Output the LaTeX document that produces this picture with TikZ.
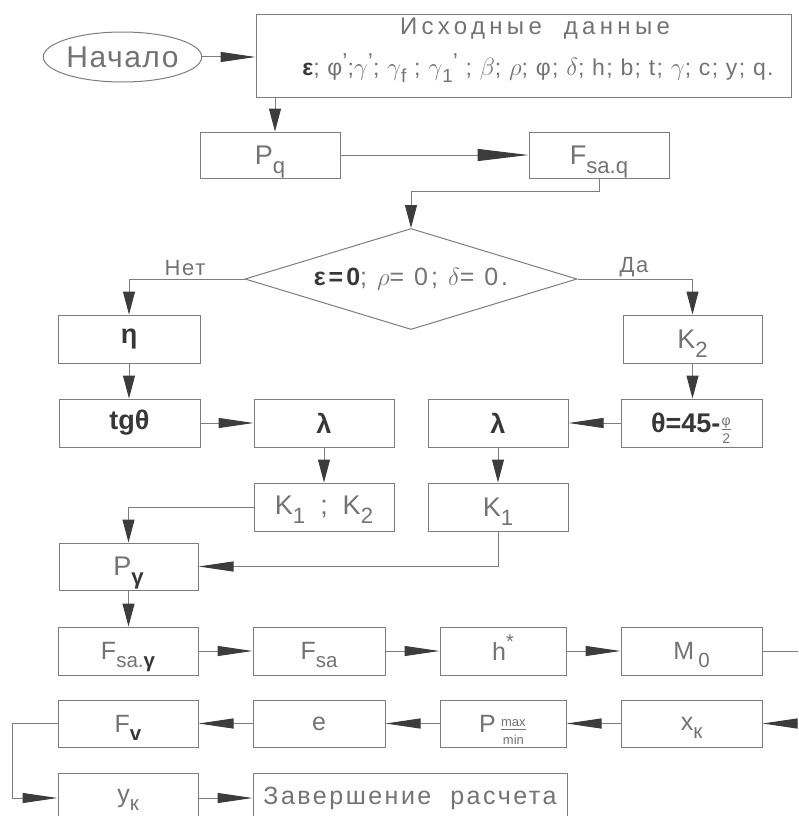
\documentclass[tikz,border=0pt]{standalone}
\usepackage{fontspec}
\setmainfont{Liberation Sans}
\usetikzlibrary{arrows.meta,shapes.geometric}
\definecolor{linec}{RGB}{125,125,125}
\definecolor{tipc}{RGB}{60,60,60}
\definecolor{textc}{RGB}{115,115,115}
\definecolor{darkc}{RGB}{55,55,55}
\newcommand\fs[1]{\fontsize{#1}{#1}\selectfont}
\newcommand\lo[1]{\raisebox{-0.33em}[0pt][0pt]{\scalebox{0.82}{#1}}}
\newcommand\bk[1]{\textcolor{darkc}{\bfseries #1}}
\newcommand\apo{\raisebox{0.25em}{’}}
\begin{document}
\begin{tikzpicture}[x=1pt,y=-1pt,
  box/.style={draw=linec,line width=1pt,rectangle,inner sep=0pt,text=textc,font=\fs{27}},
  lbox/.style={box,font=\fs{25}},
  sz/.style 2 args={minimum width=#1pt,minimum height=#2pt},
  lbl/.style={inner sep=0pt,text=textc},
  line/.style={draw=linec,line width=1pt},
  arr/.style={line,-{Triangle[length=35pt,width=10pt,color=tipc]}},
  varr/.style={line,-{Triangle[length=23pt,width=12pt,color=tipc]}},
  larr/.style={line,-{Triangle[length=51pt,width=12pt,color=tipc]}}]
\clip (0,0) rectangle (798,816);
% start and input
\node[ellipse,draw=linec,line width=1pt,inner sep=0pt,sz={155}{50},text=textc,font=\fs{30}] (start) at (122.5,57) {\addfontfeature{LetterSpace=5}Начало};
\node[box,sz={535}{82}] (inp) at (523.5,56) {};
\node[lbl,font=\fs{24}] (inpt1) at (535,29) {\addfontfeature{LetterSpace=18}Исходные\ \ данные};
\node[lbl,font=\fs{23}] (inpt2) at (538,67) {\addfontfeature{LetterSpace=6}\bk{ε}; φ\apo;$\gamma$\apo; $\gamma$\lo{f} ; $\gamma$\lo{1}\apo\ ; $\beta$; $\rho$; φ; $\delta$; h; b; t; $\gamma$; c; y; q.};
% second row
\node[box,sz={140}{46}] (pq) at (270,155) {P\lo{q}};
\node[box,sz={140}{46}] (fsq) at (599,155) {F\lo{sa.q}};
% decision
\node[diamond,draw=linec,line width=1pt,inner sep=0pt,aspect=3.3,sz={332}{101},text=textc,font=\fs{25}] (dia) at (411,279) {\addfontfeature{LetterSpace=12}\bk{ε=0}; $\rho$= 0; $\delta$= 0.};
\node[lbl,font=\fs{22}] (net) at (185,268) {\addfontfeature{LetterSpace=8}Нет};
\node[lbl,font=\fs{22}] (da) at (634,267) {\addfontfeature{LetterSpace=8}Да};
% left branch
\node[box,sz={142}{48}] (eta) at (129,339) {\bk{η}};
\node[box,sz={141}{48}] (tg) at (129.5,423) {\bk{tgθ}};
\node[box,sz={140}{48}] (lamL) at (324,423) {\bk{λ}};
\node[box,sz={140}{48}] (k12) at (324,507) {K\lo{1}\ \ ;\ \ K\lo{2}};
% right branch
\node[box,sz={139}{48}] (k2) at (692.5,339) {K\lo{2}};
\node[box,sz={141}{48}] (theta) at (691.5,423) {\bk{θ=45-}\raisebox{-0.1em}[0pt][0pt]{$\frac{\mbox{\fs{14}φ}}{\mbox{\fs{14}2}}$}};
\node[box,sz={140}{48}] (lamR) at (498,423) {\bk{λ}};
\node[box,sz={140}{48}] (k1) at (498,507) {K\lo{1}};
% P gamma
\node[box,sz={139}{47}] (pg) at (128.5,566.5) {P\lo{\bk{γ}}};
% row F
\node[lbox,sz={140}{48}] (fsg) at (128,651) {F\lo{sa.\bk{γ}}};
\node[lbox,sz={132}{48}] (fsa) at (319,651) {F\lo{sa}};
\node[lbox,sz={126}{48}] (hs) at (503,651) {h\raisebox{0.45em}[0pt][0pt]{\scalebox{0.8}{*}}};
\node[lbox,sz={141}{48}] (m0) at (691.5,651) {M\,\lo{0}};
\coordinate (r1) at (798,651);
% row back
\node[lbox,sz={141}{47}] (xk) at (691.5,723.5) {x\lo{к}};
\node[lbox,sz={126}{47}] (pm) at (503,723.5) {P\,\raisebox{-0.15em}[0pt][0pt]{$\frac{\mbox{\fs{13}max}}{\mbox{\fs{13}min}}$}};
\node[lbox,sz={132}{47}] (e) at (319,723.5) {e};
\node[lbox,sz={140}{47}] (fv) at (128,723.5) {F\lo{\bk{v}}};
\coordinate (r2) at (798,723.5);
% last row
\node[lbox,sz={140}{50}] (yk) at (128,798) {у\lo{к}};
\node[lbox,sz={314}{50}] (end) at (410,798) {\addfontfeature{LetterSpace=10}Завершение\ \ расчета};
% connectors
\draw[arr] (start.east) -- (start.east -| inp.west);
\draw[varr] ([xshift=5pt]pq.north |- inp.south) -- ([xshift=5pt]pq.north);
\draw[larr] (pq.east) -- (fsq.west);
\draw[varr] (fsq.south) -- ++(0,13) -| (dia.north);
\draw[varr] (dia.west) -| (eta.north);
\draw[varr] (dia.east) -| (k2.north);
\draw[varr] (eta.south) -- (eta.south |- tg.north);
\draw[varr] (k2.south) -- (k2.south |- theta.north);
\draw[arr] (tg.east) -- (lamL.west);
\draw[arr] (theta.west) -- (lamR.east);
\draw[varr] (lamL.south) -- (k12.north);
\draw[varr] (lamR.south) -- (k1.north);
\draw[varr] (k12.west) -| (pg.north);
\draw[arr] (k1.south) |- (pg.east);
\draw[varr] (pg.south) -- (pg.south |- fsg.north);
\draw[arr] (fsg.east) -- (fsa.west);
\draw[arr] (fsa.east) -- (hs.west);
\draw[arr] (hs.east) -- (m0.west);
\draw[line] (m0.east) -- (r1);
\draw[arr] (r2) -- (xk.east);
\draw[arr] (xk.west) -- (pm.east);
\draw[arr] (pm.west) -- (e.east);
\draw[arr] (e.west) -- (fv.east);
\draw[arr] (fv.west) -- ++(-45,0) |- (yk.west);
\draw[arr] (yk.east) -- (end.west);
\end{tikzpicture}
\end{document}
